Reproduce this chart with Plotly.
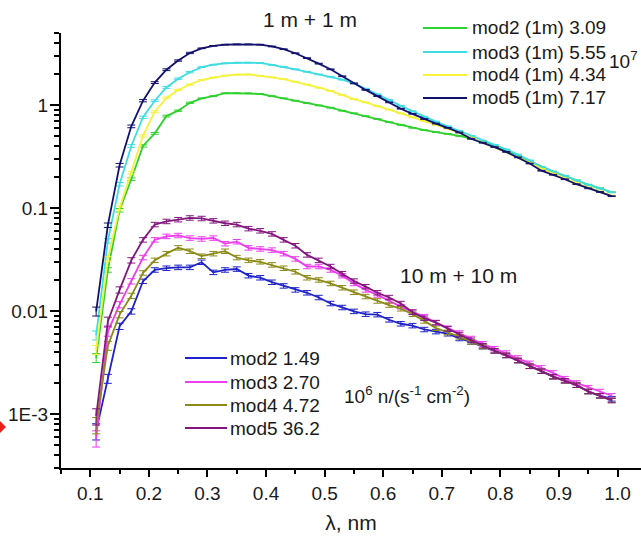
import math
import plotly.graph_objects as go

# ---------------- data ----------------
wavelength = [0.11, 0.13, 0.15, 0.17, 0.19, 0.21, 0.23, 0.25, 0.27, 0.29,
              0.31, 0.33, 0.35, 0.37, 0.39, 0.41, 0.43, 0.45, 0.47, 0.49,
              0.51, 0.53, 0.55, 0.57, 0.59, 0.61, 0.63, 0.65, 0.67, 0.69,
              0.71, 0.73, 0.75, 0.77, 0.79, 0.81, 0.83, 0.85, 0.87, 0.89,
              0.91, 0.93, 0.95, 0.97, 0.99]

# 1 m + 1 m
mod2_1m = [0.0035, 0.025, 0.095, 0.19, 0.40, 0.53, 0.78, 0.88, 1.05, 1.16,
           1.22, 1.30, 1.30, 1.30, 1.28, 1.22, 1.16, 1.10, 1.04, 0.99,
           0.94, 0.88, 0.83, 0.78, 0.73, 0.68, 0.64, 0.60, 0.57, 0.545,
           0.525, 0.50, 0.47, 0.435, 0.40, 0.36, 0.32, 0.285, 0.25, 0.225,
           0.205, 0.185, 0.168, 0.155, 0.142]
mod3_1m = [0.0058, 0.048, 0.17, 0.40, 0.76, 1.10, 1.48, 1.80, 2.08, 2.33,
           2.46, 2.54, 2.57, 2.58, 2.56, 2.45, 2.35, 2.22, 2.10, 1.98,
           1.88, 1.76, 1.62, 1.44, 1.27, 1.12, 0.98, 0.87, 0.77, 0.69,
           0.62, 0.56, 0.50, 0.45, 0.41, 0.37, 0.33, 0.29, 0.25, 0.225,
           0.205, 0.185, 0.168, 0.155, 0.142]
mod4_1m = [0.0042, 0.032, 0.10, 0.22, 0.50, 0.86, 1.17, 1.40, 1.58, 1.75,
           1.85, 1.93, 1.97, 1.98, 1.92, 1.86, 1.78, 1.68, 1.58, 1.47,
           1.37, 1.25, 1.14, 1.06, 0.97, 0.90, 0.83, 0.76, 0.70, 0.64,
           0.59, 0.54, 0.48, 0.43, 0.39, 0.35, 0.31, 0.275, 0.24, 0.215,
           0.193, 0.173, 0.158, 0.145, 0.132]
mod5_1m = [0.0099, 0.068, 0.26, 0.62, 1.10, 1.65, 2.20, 2.70, 3.20, 3.55,
           3.75, 3.85, 3.88, 3.88, 3.85, 3.70, 3.48, 3.18, 2.85, 2.52,
           2.22, 1.90, 1.62, 1.40, 1.22, 1.06, 0.92, 0.82, 0.73, 0.66,
           0.60, 0.54, 0.47, 0.43, 0.39, 0.35, 0.31, 0.27, 0.23, 0.21,
           0.19, 0.17, 0.155, 0.143, 0.130]

# 10 m + 10 m
mod2_10m = [0.00068, 0.0022, 0.0071, 0.0099, 0.0194, 0.025, 0.026, 0.0265, 0.0265, 0.0297,
            0.0237, 0.025, 0.0255, 0.022, 0.021, 0.019, 0.0175, 0.016, 0.015, 0.0135,
            0.0118, 0.0108, 0.0099, 0.0093, 0.0092, 0.0082, 0.0075, 0.0072, 0.0066, 0.0063,
            0.0060, 0.0054, 0.0050, 0.0045, 0.0041, 0.0037, 0.0033, 0.0029, 0.0026, 0.0023,
            0.0021, 0.0019, 0.00165, 0.0015, 0.0014]
mod3_10m = [0.00058, 0.0063, 0.0115, 0.0194, 0.033, 0.049, 0.053, 0.054, 0.051, 0.050,
            0.051, 0.045, 0.047, 0.041, 0.040, 0.039, 0.036, 0.032, 0.027, 0.027,
            0.025, 0.022, 0.0185, 0.0160, 0.0143, 0.0125, 0.0110, 0.0098, 0.0088, 0.0077,
            0.0068, 0.0061, 0.0054, 0.0048, 0.0043, 0.0039, 0.0035, 0.0031, 0.0028, 0.0025,
            0.0022, 0.0020, 0.0018, 0.00165, 0.0015]
mod4_10m = [0.00078, 0.0046, 0.0092, 0.014, 0.0234, 0.031, 0.036, 0.041, 0.038, 0.034,
            0.036, 0.038, 0.033, 0.031, 0.030, 0.028, 0.026, 0.024, 0.021, 0.020,
            0.0185, 0.0168, 0.0152, 0.0138, 0.0125, 0.0114, 0.0105, 0.0093, 0.0080, 0.0068,
            0.0062, 0.0056, 0.0050, 0.0045, 0.0041, 0.0037, 0.0033, 0.0029, 0.0026, 0.0023,
            0.0021, 0.0019, 0.00165, 0.0015, 0.00135]
mod5_10m = [0.00095, 0.0079, 0.016, 0.031, 0.049, 0.069, 0.074, 0.077, 0.080, 0.079,
            0.075, 0.071, 0.069, 0.063, 0.060, 0.056, 0.049, 0.043, 0.035, 0.031,
            0.027, 0.023, 0.0195, 0.0172, 0.0150, 0.0135, 0.0118, 0.0097, 0.0085, 0.0077,
            0.0067, 0.0059, 0.0052, 0.0046, 0.0041, 0.0037, 0.0033, 0.0029, 0.0026, 0.0023,
            0.0021, 0.0019, 0.00165, 0.0015, 0.00135]

# relative errors (first points larger, then roughly constant)
rel_err_1m_head = [0.10, 0.05, 0.04, 0.03, 0.025, 0.02, 0.02, 0.015, 0.015]
rel_err_1m_tail = 0.008
rel_err_10m_head = [0.18, 0.10, 0.07, 0.06]
rel_err_10m_tail = 0.05

labels_1m = ["mod2 (1m) 3.09", "mod3 (1m) 5.55", "mod4 (1m) 4.34", "mod5 (1m) 7.17"]
labels_10m = ["mod2 1.49", "mod3 2.70", "mod4 4.72", "mod5 36.2"]

x_tick_vals = [0.1, 0.2, 0.3, 0.4, 0.5, 0.6, 0.7, 0.8, 0.9, 1.0]
x_tick_text = ["0.1", "0.2", "0.3", "0.4", "0.5", "0.6", "0.7", "0.8", "0.9", "1.0"]
y_tick_vals = [0.001, 0.01, 0.1, 1]
y_tick_text = ["1E-3", "0.01", "0.1", "1"]

# ---------------- styling ----------------
W, H = 641, 541
colors_1m = ["#2ED12E", "#3EDDE3", "#F5F23A", "#12126E"]
colors_10m = ["#1E22C8", "#EE3DEE", "#8C8A16", "#84177F"]
FONT = "Liberation Sans, Arial, sans-serif"
TXT = "#1a1a1a"
FS = 19
FS_BIG = 21


def px_x(p):
    return p / W


def px_y(p):
    return 1 - p / H


def errors(vals, head, tail):
    rel = head + [tail] * (len(vals) - len(head))
    return [v * r for v, r in zip(vals, rel)]


fig = go.Figure()

for name, vals, col in zip(labels_1m, [mod2_1m, mod3_1m, mod4_1m, mod5_1m], colors_1m):
    fig.add_trace(go.Scatter(
        x=wavelength, y=vals, mode="lines", name=name, showlegend=False,
        line=dict(color=col, width=1.8),
        error_y=dict(type="data", array=errors(vals, rel_err_1m_head, rel_err_1m_tail),
                     color=col, thickness=1, width=4),
    ))

for name, vals, col in zip(labels_10m, [mod2_10m, mod3_10m, mod4_10m, mod5_10m], colors_10m):
    fig.add_trace(go.Scatter(
        x=wavelength, y=vals, mode="lines", name=name, showlegend=False,
        line=dict(color=col, width=1.8),
        error_y=dict(type="data", array=errors(vals, rel_err_10m_head, rel_err_10m_tail),
                     color=col, thickness=1, width=4),
    ))

# minor ticks on the log axis: 2..9 within every decade
y_minor = []
for e in range(-4, 1):
    for m in range(2, 10):
        y_minor.append(m * 10 ** e)

axis_left, axis_right, axis_top, axis_bottom = 61, 641, 33, 467.7

fig.update_layout(
    template="none",
    width=W, height=H,
    margin=dict(l=0, r=0, t=0, b=0, autoexpand=False),
    paper_bgcolor="white", plot_bgcolor="white",
    font=dict(family=FONT, size=FS, color=TXT),
    showlegend=False,
    xaxis=dict(
        domain=[px_x(axis_left), px_x(axis_right)],
        automargin=False,
        range=[0.05, 1.04], showline=True, linecolor="black", linewidth=2,
        ticks="outside", ticklen=7, tickwidth=1.5, tickcolor="black",
        tickmode="array", tickvals=x_tick_vals, ticktext=x_tick_text,
        minor=dict(ticks="outside", ticklen=4, tickwidth=1.5, tickcolor="black",
                   dtick=0.05, tick0=0.05, showgrid=False),
        showgrid=False, zeroline=False, mirror=False,
        tickfont=dict(size=FS, family=FONT, color=TXT),
        title=dict(text="λ, nm", font=dict(size=FS_BIG, family=FONT, color=TXT), standoff=13),
    ),
    yaxis=dict(
        domain=[px_y(axis_bottom), px_y(axis_top)],
        automargin=False,
        type="log", range=[math.log10(3e-4), math.log10(5)],
        showline=True, linecolor="black", linewidth=2,
        ticks="outside", ticklen=9, tickwidth=1.5, tickcolor="black",
        tickmode="array", tickvals=y_tick_vals, ticktext=y_tick_text,
        ticklabelstandoff=-2,
        minor=dict(ticks="outside", ticklen=5, tickwidth=1.5, tickcolor="black",
                   tickmode="array", tickvals=y_minor, showgrid=False),
        showgrid=False, zeroline=False, mirror=False,
        tickfont=dict(size=FS, family=FONT, color=TXT),
    ),
)


def add_text(text, x, y, anchor="left", size=FS):
    fig.add_annotation(text=text, x=px_x(x), y=px_y(y), xref="paper", yref="paper",
                       showarrow=False, xanchor=anchor, yanchor="middle",
                       font=dict(family=FONT, size=size, color=TXT))


# legend keys (drawn as key lines + labels)
legend1_rows = [28, 52, 75, 98]
legend2_rows = [358, 382, 405, 428]
for lab, col, ry in zip(labels_1m, colors_1m, legend1_rows):
    fig.add_shape(type="line", xref="paper", yref="paper",
                  x0=px_x(423), x1=px_x(467), y0=px_y(ry), y1=px_y(ry),
                  line=dict(color=col, width=2))
    add_text(lab, 470, ry)
for lab, col, ry in zip(labels_10m, colors_10m, legend2_rows):
    fig.add_shape(type="line", xref="paper", yref="paper",
                  x0=px_x(185), x1=px_x(227), y0=px_y(ry), y1=px_y(ry),
                  line=dict(color=col, width=2))
    add_text(lab, 228, ry)

add_text("1 m + 1 m", 310, 19, anchor="center", size=FS_BIG)
add_text("10 m + 10 m", 398, 275, size=FS_BIG)
add_text("10<sup>7</sup>", 640, 60, anchor="right")
add_text("10<sup>6</sup> n/(s<sup>-1</sup> cm<sup>-2</sup>)", 342, 395)

# small red marker at the left edge of the picture
fig.add_shape(type="path", xref="paper", yref="paper",
              path="M {} {} L {} {} L {} {} Z".format(
                  px_x(0), px_y(421), px_x(6), px_y(427), px_x(0), px_y(433)),
              fillcolor="#E8201C", line=dict(width=0))

fig.write_html("out.html",
               config={"displayModeBar": False},
               post_script="document.body.style.margin='0px';document.body.style.padding='0px';")
